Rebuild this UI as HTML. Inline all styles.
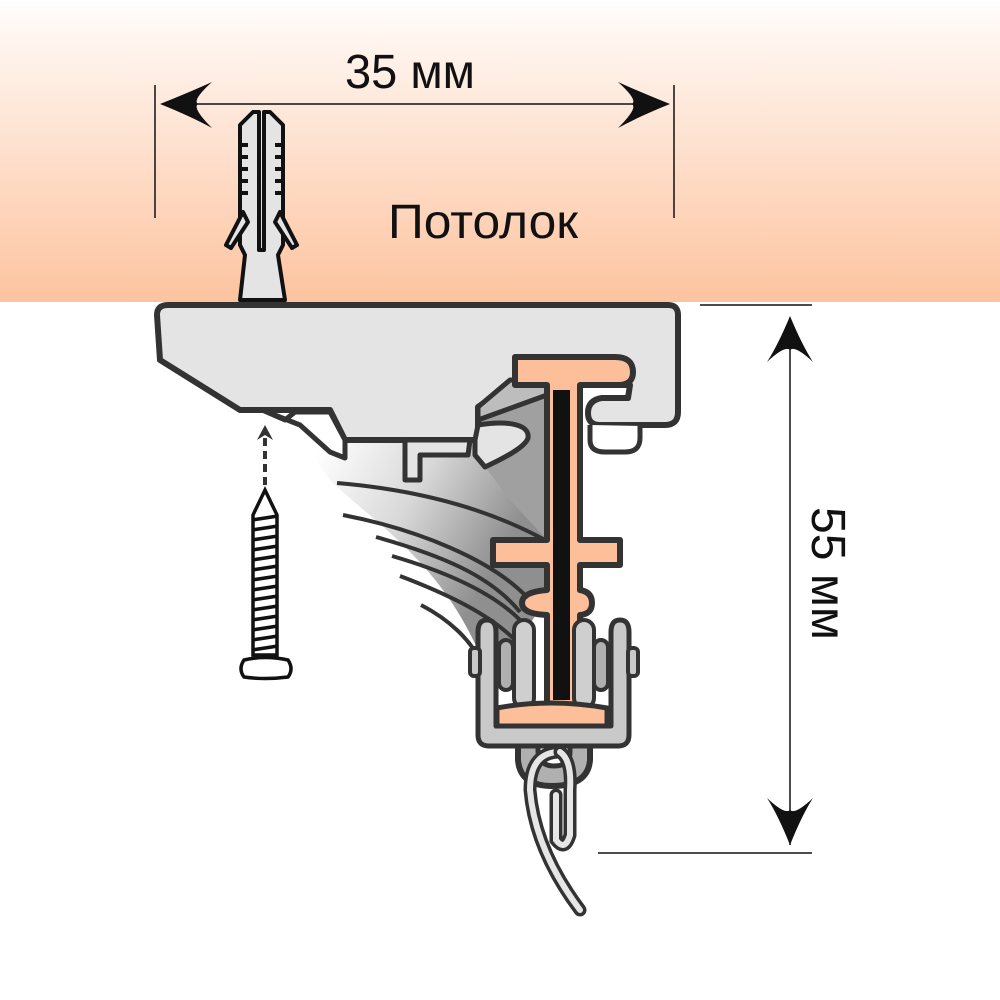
<!DOCTYPE html>
<html><head><meta charset="utf-8"><style>
html,body{margin:0;padding:0;background:#fff;}
svg{display:block;}
text{font-family:"Liberation Sans","DejaVu Sans",sans-serif;}
</style></head><body>
<svg width="1000" height="1000" viewBox="0 0 1000 1000" xmlns="http://www.w3.org/2000/svg">
<defs>
<linearGradient id="ceil" x1="0" y1="0" x2="0" y2="1">
<stop offset="0" stop-color="#ffffff"/>
<stop offset="0.1" stop-color="#fff7f2"/>
<stop offset="1" stop-color="#fdc39f"/>
</linearGradient>
<linearGradient id="fan" x1="0.2" y1="0.1" x2="0.9" y2="0.5">
<stop offset="0" stop-color="#ffffff"/>
<stop offset="0.5" stop-color="#d8d8d8"/>
<stop offset="1" stop-color="#8f8f8f"/>
</linearGradient>
</defs>
<rect x="0" y="0" width="1000" height="302" fill="url(#ceil)"/>

<!-- fan shading -->
<path d="M285,420 L345,440 L470,440 L545,390 L545,600 L520,640 L480,655 C440,560 370,520 330,480 Z" fill="url(#fan)"/>
<path d="M475,400 L547,380 L547,540 L510,500 L480,460 Z" fill="#a0a0a0"/>

<!-- curved lines -->
<g fill="none" stroke="#333" stroke-width="4">
<path d="M337,483 C420,490 490,510 545,540"/>
<path d="M343,515 C420,530 490,560 525,595"/>
<path d="M376,537 C440,555 490,575 520,612"/>
<path d="M392,556 C440,570 490,590 520,620"/>
<path d="M400,576 C450,595 490,615 515,640"/>
<path d="M421,605 C450,620 470,640 480,660"/>
</g>

<!-- bracket -->
<path d="M168,305 L668,305 Q678,305 678,315 L678,412 Q678,425 665,425 L600,425 Q588,425 588,413 Q588,400 602,398 L628,398 L630,385 L580,385 L580,540 L547,540 L547,382 L510,385 L478,407 L478,440 L345,440 L330,410 L240,410 L160,360 L157,315 Q157,305 168,305 Z" fill="#e4e4e4" stroke="#333" stroke-width="6" stroke-linejoin="round"/>
<path d="M262,410 L285,420 L295,412 L330,412 L345,440 L345,458 L330,452 L300,425 Z" fill="#fff" stroke="#333" stroke-width="5" stroke-linejoin="round"/>
<path d="M405,440 L405,480 L420,480 L420,455 L468,455 L470,440 Z" fill="#e4e4e4" stroke="#333" stroke-width="5" stroke-linejoin="round"/>
<path d="M478,407 L510,380 L547,380 L547,395 L478,420 Z" fill="#bdbdbd" stroke="#333" stroke-width="5" stroke-linejoin="round"/>
<path d="M478,425 C510,420 530,425 528,438 C525,448 500,460 485,467 L475,455 L475,440 Z" fill="#e4e4e4" stroke="#333" stroke-width="5" stroke-linejoin="round"/>
<path d="M590,425 L590,440 Q590,452 605,452 L625,452 Q640,452 640,438 L640,426" fill="#fff" stroke="#333" stroke-width="5"/>

<!-- orange carrier -->
<path d="M515,357 L615,357 Q633,357 633,372 Q633,385 618,385 L580,385 L580,540 L620,540 L620,565 L580,565 L580,590 Q592,592 592,603 Q592,614 580,615 L580,705 L600,708 Q610,712 607,722 L604,728 L500,728 Q495,715 500,708 L547,705 L547,615 Q522,614 522,603 Q522,592 547,590 L547,565 L493,565 L493,540 L547,540 L547,385 L515,385 Z" fill="#fcbf99" stroke="#333" stroke-width="6" stroke-linejoin="round"/>
<rect x="553" y="390" width="17" height="310" fill="#111"/>

<!-- hook ring -->
<path d="M518,744 L518,760 Q520,786 552,786 Q588,786 590,760 L590,744 Z" fill="#b0b0b0" stroke="#333" stroke-width="6" stroke-linejoin="round"/>
<path d="M538,744 L538,752 Q540,766 554,766 Q570,766 570,752 L570,744 Z" fill="#fff" stroke="#333" stroke-width="5"/>

<!-- runner -->
<path d="M478,632 Q478,620 487,620 Q496,620 496,632 L496,726 L611,726 L611,632 Q611,620 620,620 Q629,620 629,632 L629,735 Q629,746 618,746 L489,746 Q478,746 478,735 Z" fill="#c9c9c9" stroke="#333" stroke-width="5" stroke-linejoin="round"/>
<rect x="470" y="648" width="10" height="28" rx="4" fill="#c9c9c9" stroke="#333" stroke-width="4"/>
<rect x="628" y="648" width="10" height="28" rx="4" fill="#c9c9c9" stroke="#333" stroke-width="4"/>
<rect x="499" y="640" width="14" height="50" rx="7" fill="#b0b0b0" stroke="#333" stroke-width="4"/>
<rect x="594" y="640" width="14" height="50" rx="7" fill="#b0b0b0" stroke="#333" stroke-width="4"/>
<rect x="514" y="620" width="20" height="88" rx="10" fill="#cfcfcf" stroke="#333" stroke-width="4"/>
<rect x="574" y="620" width="20" height="88" rx="10" fill="#cfcfcf" stroke="#333" stroke-width="4"/>
<path d="M497,708 Q550,698 607,708 L607,726 L497,726 Z" fill="#fcbf99" stroke="#333" stroke-width="5"/>

<!-- hook -->
<path d="M560,752 Q530,752 530,790 Q535,850 580,910" fill="none" stroke="#333" stroke-width="13" stroke-linecap="round"/>
<path d="M560,752 Q530,752 530,790 Q535,850 580,910" fill="none" stroke="#e6e6e6" stroke-width="6" stroke-linecap="round"/>
<path d="M560,752 Q572,760 570,790 L570,835 Q565,852 556,840 L556,795" fill="none" stroke="#333" stroke-width="13" stroke-linecap="round"/>
<path d="M560,752 Q572,760 570,790 L570,835 Q565,852 556,840 L556,795" fill="none" stroke="#e6e6e6" stroke-width="6" stroke-linecap="round"/>

<!-- dowel -->
<g fill="#e4e4e4" stroke="#111" stroke-width="4" stroke-linejoin="round">
<path d="M240,300 L245,255 L240,245 L240,125 L253,112 L259,112 L259,250 L264,250 L264,112 L270,112 L283,125 L283,245 L278,255 L285,300 Z"/>
<path d="M243,212 L226,245 L231,248 L248,222 Z"/>
<path d="M280,212 L297,245 L292,248 L275,222 Z"/>
</g>
<g stroke="#111" stroke-width="4">
<line x1="240" y1="145" x2="248" y2="145"/><line x1="240" y1="157" x2="248" y2="157"/><line x1="240" y1="169" x2="248" y2="169"/><line x1="240" y1="181" x2="248" y2="181"/><line x1="240" y1="193" x2="248" y2="193"/>
<line x1="275" y1="145" x2="283" y2="145"/><line x1="275" y1="157" x2="283" y2="157"/><line x1="275" y1="169" x2="283" y2="169"/><line x1="275" y1="181" x2="283" y2="181"/><line x1="275" y1="193" x2="283" y2="193"/>
</g>

<!-- screw -->
<line x1="265" y1="485" x2="265" y2="438" stroke="#333" stroke-width="4" stroke-dasharray="8,5"/>
<path d="M257,440 L265,425 L273,440 L265,435 Z" fill="#333"/>
<path d="M265,490 L277,515 L277,655 L253,655 L253,515 Z" fill="#fff" stroke="#111" stroke-width="3.5"/>
<g stroke="#111" stroke-width="3.5">
<line x1="252" y1="520" x2="278" y2="516"/><line x1="252" y1="530" x2="278" y2="526"/><line x1="252" y1="540" x2="278" y2="536"/><line x1="252" y1="550" x2="278" y2="546"/><line x1="252" y1="560" x2="278" y2="556"/><line x1="252" y1="570" x2="278" y2="566"/><line x1="252" y1="580" x2="278" y2="576"/><line x1="252" y1="590" x2="278" y2="586"/><line x1="252" y1="600" x2="278" y2="596"/><line x1="252" y1="610" x2="278" y2="606"/><line x1="252" y1="620" x2="278" y2="616"/><line x1="252" y1="630" x2="278" y2="626"/><line x1="252" y1="640" x2="278" y2="636"/><line x1="252" y1="650" x2="278" y2="646"/>
</g>
<path d="M244,660 Q265,655 288,660 Q294,669 288,677 Q265,680 244,677 Q238,669 244,660 Z" fill="#fff" stroke="#111" stroke-width="3.5"/>

<!-- dimensions -->
<g stroke="#111" stroke-width="1.5">
<line x1="155" y1="85" x2="155" y2="218"/>
<line x1="674" y1="85" x2="674" y2="218"/>
<line x1="170" y1="104" x2="660" y2="104"/>
<line x1="700" y1="305" x2="812" y2="305"/>
<line x1="598" y1="853" x2="812" y2="853"/>
<line x1="790" y1="320" x2="790" y2="845"/>
</g>
<path d="M160,104 Q190,92 212,82 Q192,100 198,104 Q192,108 212,128 Q190,116 160,104 Z" fill="#111"/>
<path d="M670,104 Q640,92 618,82 Q638,100 632,104 Q638,108 618,128 Q640,116 670,104 Z" fill="#111"/>
<path d="M790,316 Q778,345 767,362 Q785,345 790,350 Q795,345 813,362 Q802,345 790,316 Z" fill="#111"/>
<path d="M790,845 Q778,815 767,798 Q785,815 790,810 Q795,815 813,798 Q802,815 790,845 Z" fill="#111"/>

<text x="345" y="88" font-size="48" textLength="130" lengthAdjust="spacingAndGlyphs" fill="#111">35 мм</text>
<text x="388" y="238" font-size="48" textLength="190" lengthAdjust="spacingAndGlyphs" fill="#111">Потолок</text>
<text transform="translate(812,507) rotate(90)" font-size="48" textLength="133" lengthAdjust="spacingAndGlyphs" fill="#111">55 мм</text>
</svg>
</body></html>
